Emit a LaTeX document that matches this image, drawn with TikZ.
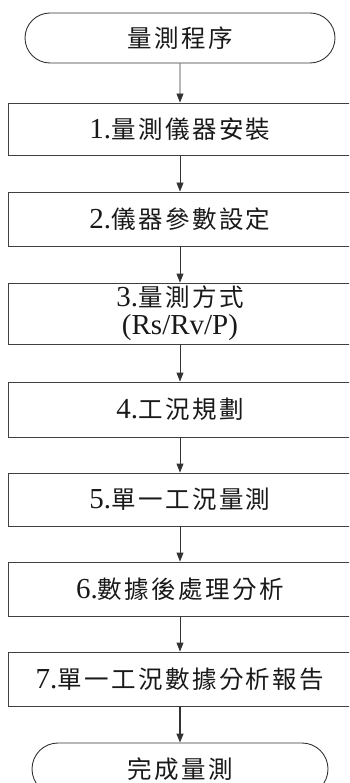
\documentclass[tikz,border=0pt]{standalone}
\usepackage{fontspec}
\setmainfont{Liberation Serif}
\newfontfamily\cjk[Scale=0.845,LetterSpace=10]{Noto Sans CJK TC}
\usetikzlibrary{arrows.meta,shapes.misc}
\begin{document}
\begin{tikzpicture}[x=1pt,y=-1pt,
  txt/.style={font=\fontsize{29pt}{28pt}\selectfont,align=center,text=black!90},
  box/.style={txt,draw=black!75,line width=0.9pt,minimum width=344pt,inner sep=0pt},
  term/.style={txt,draw=black!80,line width=0.9pt,rounded rectangle,inner sep=0pt},
  conn/.style={draw=black!80,line width=0.9pt,-{Triangle[length=9pt,width=7pt]}}]
\clip (0,0) rectangle (349,783);
\node[term,minimum width=310pt,minimum height=50pt] (t0) at (180,38) {\cjk 量測程序};
\node[box,minimum height=52pt] (b1) at (180,129) {1.{\cjk 量測儀器安裝}};
\node[box,minimum height=54pt] (b2) at (180,219) {2.{\cjk 儀器參數設定}};
\node[box,minimum height=61pt] (b3) at (180,313.5) {3.{\cjk 量測方式}\\(Rs/Rv/P)};
\node[box,minimum height=55pt] (b4) at (180,409.5) {4.{\cjk 工況規劃}};
\node[box,minimum height=53pt] (b5) at (180,499.5) {5.{\cjk 單一工況量測}};
\node[box,minimum height=54pt] (b6) at (180,589) {6.{\cjk 數據後處理分析}};
\node[box,minimum height=54pt] (b7) at (180,679) {7.{\cjk 單一工況數據分析報告}};
\node[term,minimum width=296pt,minimum height=52pt] (t1) at (180,769) {\cjk 完成量測};
\draw[conn] (t0) -- (b1);
\draw[conn] (b1) -- (b2);
\draw[conn] (b2) -- (b3);
\draw[conn] (b3) -- (b4);
\draw[conn] (b4) -- (b5);
\draw[conn] (b5) -- (b6);
\draw[conn] (b6) -- (b7);
\draw[conn,line width=1.3pt] (b7) -- (t1);
\end{tikzpicture}
\end{document}
